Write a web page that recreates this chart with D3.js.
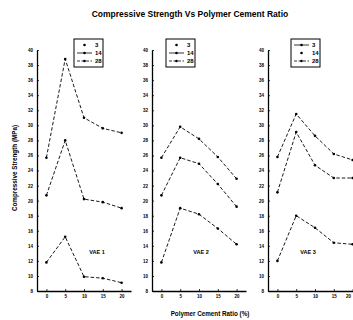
<!DOCTYPE html>
<html><head><meta charset="utf-8">
<script src="https://cdn.jsdelivr.net/npm/d3@7"></script>
<style>body{margin:0;background:#fff}svg{display:block}text{font-family:"Liberation Sans",Arial,sans-serif;font-weight:bold;fill:#000}</style>
</head><body><svg id="c" width="353" height="320"></svg>
<script>
const title = "Compressive Strength Vs Polymer Cement Ratio";
const xTitle = "Polymer Cement Ratio (%)";
const yTitle = "Compressive Strength (MPa)";
const ratios = [0, 5, 10, 15, 20];
const ages = ["3", "14", "28"];
const panels = ["VAE 1", "VAE 2", "VAE 3"];
const yTicks = [8,10,12,14,16,18,20,22,24,26,28,30,32,34,36,38,40];
const vae1_3 = [11.8, 15.2, 9.9, 9.7, 9.1];
const vae1_14 = [20.7, 28.0, 20.2, 19.8, 19.0];
const vae1_28 = [25.7, 38.8, 31.0, 29.6, 29.0];
const vae2_3 = [11.8, 19.0, 18.2, 16.3, 14.2];
const vae2_14 = [20.7, 25.7, 24.9, 22.2, 19.2];
const vae2_28 = [25.7, 29.8, 28.2, 25.8, 22.9];
const vae3_3 = [12.0, 18.0, 16.4, 14.4, 14.2];
const vae3_14 = [21.1, 29.1, 24.7, 23.0, 23.0];
const vae3_28 = [25.8, 31.5, 28.6, 26.2, 25.4];
const series = [[vae1_3, vae1_14, vae1_28],[vae2_3, vae2_14, vae2_28],[vae3_3, vae3_14, vae3_28]];

const svg = d3.select("#c");
svg.append("rect").attr("width",353).attr("height",320).attr("fill","#fff");
svg.append("text").attr("x",190).attr("y",17).attr("text-anchor","middle").attr("font-size",8.5).text(title);
svg.append("text").attr("x",210).attr("y",316).attr("text-anchor","middle").attr("font-size",6.3).text(xTitle);
svg.append("text").attr("transform","translate(17,168) rotate(-90)").attr("text-anchor","middle").attr("font-size",6.3).text(yTitle);

const y = d3.scaleLinear().domain([8,40]).range([291,50]);
const axisLeft = [37, 152, 268];
const legendX = [74, 166, 291];
const labelX = [97, 201, 308];
const legendLine = [[false,true,true],[false,true,true],[true,false,true]];

panels.forEach((name, p) => {
  const x0 = axisLeft[p];
  const x = d3.scaleLinear().domain([-2.5,22.5]).range([x0, x0+94]);
  const g = svg.append("g");
  const ya = g.append("g").attr("transform",`translate(${x0},0)`)
    .call(d3.axisLeft(y).tickValues(yTicks).tickSizeInner(-2).tickSizeOuter(0).tickPadding(4).tickFormat(d3.format("d")));
  const xa = g.append("g").attr("transform","translate(0,291)")
    .call(d3.axisBottom(x).tickValues(ratios).tickSizeInner(-2).tickSizeOuter(0).tickPadding(4).tickFormat(d3.format("d")));
  [ya, xa].forEach(a => {
    a.select(".domain").attr("stroke","#000").attr("stroke-width",1.3);
    a.selectAll(".tick line").attr("stroke","#000").attr("stroke-width",0.8);
    a.selectAll("text").attr("font-size",4.5).attr("font-family","Liberation Sans, Arial, sans-serif").attr("font-weight","bold");
  });
  if (p === 2) xa.selectAll(".tick text").filter(d => d === 20).attr("text-anchor","end").attr("dx","-2");
  const line = d3.line().x((d,i)=>x(ratios[i])).y(d=>y(d));
  series[p].forEach((vals, s) => {
    g.append("path").attr("d", line(vals)).attr("fill","none").attr("stroke","#000")
      .attr("stroke-width",0.9).attr("stroke-dasharray","3.5,2");
    g.selectAll(null).data(vals).enter().append("circle")
      .attr("cx",(d,i)=>x(ratios[i])).attr("cy",d=>y(d)).attr("r",1.3).attr("fill","#000");
  });
  g.append("text").attr("x",labelX[p]).attr("y",254).attr("text-anchor","middle").attr("font-size",5.5).text(name);
  const lg = g.append("g").attr("transform",`translate(${legendX[p]},39)`);
  lg.append("rect").attr("width",29).attr("height",28).attr("fill","#fff").attr("stroke","#000").attr("stroke-width",1);
  ages.forEach((a, i) => {
    const yy = 6 + i*8;
    if (legendLine[p][i]) lg.append("line").attr("x1",3).attr("x2",18).attr("y1",yy).attr("y2",yy)
      .attr("stroke","#000").attr("stroke-width",0.8).attr("stroke-dasharray", i===2 ? "3,1.5" : null);
    lg.append("circle").attr("cx",10.5).attr("cy",yy).attr("r",1.3).attr("fill","#000");
    lg.append("text").attr("x",21).attr("y",yy+2).attr("font-size",6).text(a);
  });
});
</script></body></html>
